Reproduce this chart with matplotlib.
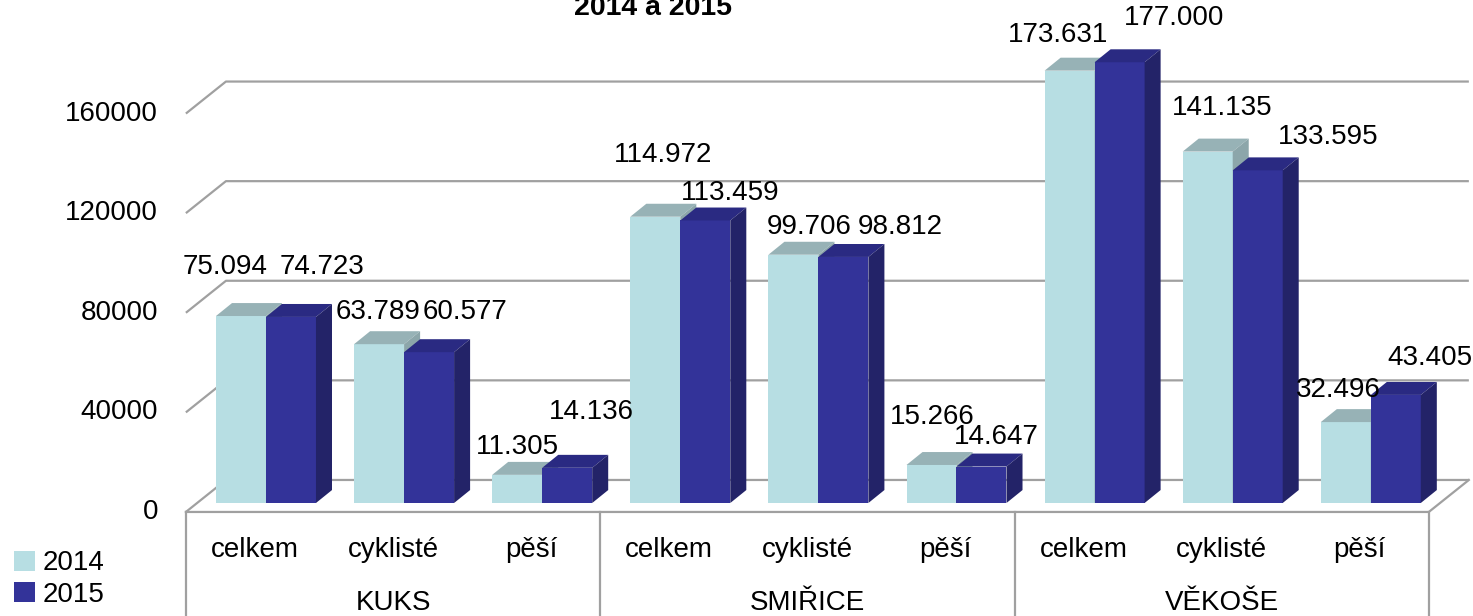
import matplotlib
matplotlib.use("Agg")
import matplotlib.pyplot as plt
from matplotlib.patches import Polygon, Patch

plt.rcParams["font.family"] = ["Liberation Sans", "DejaVu Sans"]

# data
groups = ["KUKS", "SMIŘICE", "VĚKOŠE"]
categories = ["celkem", "cyklisté", "pěší"] * 3
years = ["2014", "2015"]
values_2014 = [75094, 63789, 11305, 114972, 99706, 15266, 173631, 141135, 32496]
values_2015 = [74723, 60577, 14136, 113459, 98812, 14647, 177000, 133595, 43405]
yticks = [0, 40000, 80000, 120000, 160000]

# label nudges (pixels)
nudge_2014 = [(-16, 49), (-1, 32), (0, 28), (8, 62), (16, 28), (1, 48), (-12, 36), (14, 44), (-7, 32)]
nudge_2015 = [(31, 50), (36, 40), (24, 56), (25, 27), (57, 30), (15, 30), (54, 44), (70, 33), (34, 37)]

# colours (front, top, side)
col_2014 = ("#B7DEE3", "#97B2B6", "#8CA6AA")
col_2015 = ("#333399", "#2A2A82", "#232368")
grid_col = "#A0A0A0"

# 3d pseudo geometry in data units
bw = 0.362            # bar width
bdx, bdy = 0.116, 5200   # bar depth
fdx, fdy = 0.08, 3600    # bar front plane -> floor front
DX, DY = 0.29, 12850     # full floor depth
xl, xr = -0.5, 8.5

fig = plt.figure(figsize=(14.73, 6.16), dpi=100)
ax = fig.add_axes([0, 0, 1, 1])
ax.set_xlim(-1.926, 8.740)
ax.set_ylim(-45380, 202000)
ax.axis("off")

# gridlines: left wall + back wall
for v in yticks:
    x0, y0 = xl - fdx, v - fdy
    ax.plot([x0, x0 + DX, xr - fdx + DX], [y0, y0 + DY, y0 + DY],
            color=grid_col, lw=1.6, zorder=1, solid_capstyle="butt")
    ax.annotate(str(v), (x0, y0), xytext=(-28, 0), textcoords="offset pixels",
                ha="right", va="center", fontsize=20)

# floor front + right edge
ax.plot([xl - fdx, xr - fdx, xr - fdx + DX], [-fdy, -fdy, -fdy + DY],
        color=grid_col, lw=1.6, zorder=1)

# category table lines
for k in [xl, 2.5, 5.5, xr]:
    ax.plot([k - fdx, k - fdx], [-fdy, -45380], color=grid_col, lw=1.6, zorder=1)


def draw_bar(x, v, cols):
    left = x - bw / 2
    ax.bar(x, v, width=bw, color=cols[0], zorder=3, linewidth=0)
    top = [(left, v), (left + bw, v), (left + bw + bdx, v + bdy), (left + bdx, v + bdy)]
    side = [(left + bw, 0), (left + bw + bdx, bdy), (left + bw + bdx, v + bdy), (left + bw, v)]
    ax.add_patch(Polygon(top, closed=True, facecolor=cols[1], edgecolor="none", zorder=3))
    ax.add_patch(Polygon(side, closed=True, facecolor=cols[2], edgecolor="none", zorder=3))


for i in range(len(categories)):
    draw_bar(i - bw / 2, values_2014[i], col_2014)
    draw_bar(i + bw / 2, values_2015[i], col_2015)

for i in range(len(categories)):
    for x, v, nd in [(i - bw / 2, values_2014[i], nudge_2014[i]),
                     (i + bw / 2, values_2015[i], nudge_2015[i])]:
        ax.annotate(f"{v:,}".replace(",", "."), (x, v), xytext=nd,
                    textcoords="offset pixels", ha="center", va="center",
                    fontsize=20, zorder=10)

# axis category labels
for i, c in enumerate(categories):
    ax.text(i - fdx, -18900, c, ha="center", va="center", fontsize=20)
for g, name in enumerate(groups):
    ax.text(3 * g + 1 - fdx, -40200, name, ha="center", va="center", fontsize=20)

# title (top line is cut off in the reference)
fig.text(0.4433, 1 - 15 / 616, "2014 a 2015", ha="center", va="baseline",
         fontsize=20.5, fontweight="bold")

handles = [Patch(facecolor=col_2014[0]), Patch(facecolor=col_2015[0])]
fig.legend(handles, years, loc="lower left", bbox_to_anchor=(-0.002, -0.014),
           frameon=False, fontsize=20, handlelength=0.75, handleheight=0.75,
           handletextpad=0.3, labelspacing=0.2, borderpad=0.1)

fig.savefig("out.png", dpi=100)
